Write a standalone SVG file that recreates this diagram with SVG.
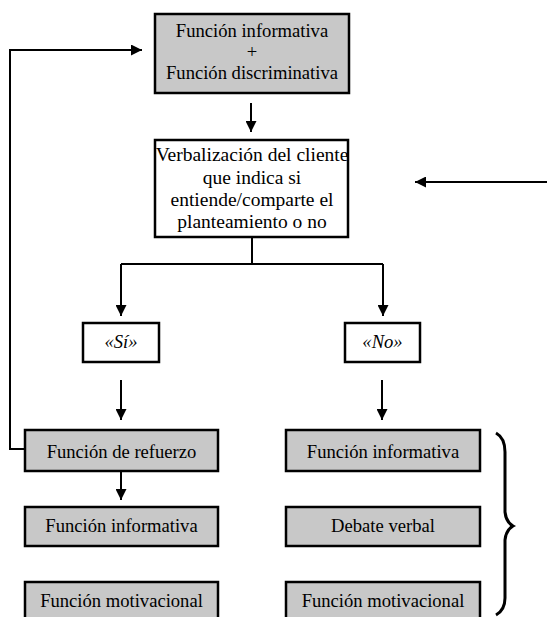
<svg xmlns="http://www.w3.org/2000/svg" width="547" height="617" viewBox="0 0 547 617">
<defs>
<marker id="ah" viewBox="0 0 11 11" refX="11" refY="5.5" markerWidth="11" markerHeight="11" markerUnits="userSpaceOnUse" orient="auto">
<path d="M0,0 L11,5.5 L0,11 z" fill="#000"/>
</marker>
<style>
.g{fill:#c8c8c8;stroke:#000;stroke-width:2.5}
.w{fill:#fff;stroke:#000;stroke-width:2.5}
.t{font-family:"Liberation Serif","Times New Roman",serif;font-size:18.6px;fill:#000;text-anchor:middle}
.v{font-size:19.5px}
.i{font-style:italic}
.c{fill:none;stroke:#000;stroke-width:2}
</style>
</defs>
<rect width="547" height="617" fill="#fff"/>
<g id="connectors">
<path class="c" d="M25,449 H10 V50 H142" marker-end="url(#ah)"/>
<path class="c" d="M251,103 V132" marker-end="url(#ah)"/>
<path class="c" d="M252,237 V264"/>
<path class="c" d="M121,264 H383"/>
<path class="c" d="M121,264 V316" marker-end="url(#ah)"/>
<path class="c" d="M383,264 V316" marker-end="url(#ah)"/>
<path class="c" d="M121,380 V420" marker-end="url(#ah)"/>
<path class="c" d="M382,380 V420" marker-end="url(#ah)"/>
<path class="c" d="M121,472 V500" marker-end="url(#ah)"/>
<path class="c" d="M547,182 H415" marker-end="url(#ah)"/>
<path d="M496,433 Q505,438 505,452 V512 Q506,522 513,526 Q506,530 505,540 V598 Q505,610 496,615" fill="none" stroke="#000" stroke-width="3"/>
</g>
<g id="n1">
<rect class="g" x="155" y="14" width="194" height="79"/>
<text class="t" x="252" y="37">Función informativa</text>
<text class="t" x="252" y="58">+</text>
<text class="t" x="252" y="79">Función discriminativa</text>
</g>
<g id="n2">
<rect class="w" x="155" y="140" width="193" height="97"/>
<text class="t v" x="252" y="161">Verbalización del cliente</text>
<text class="t v" x="252" y="184">que indica si</text>
<text class="t v" x="252" y="206">entiende/comparte el</text>
<text class="t v" x="252" y="228">planteamiento o no</text>
</g>
<g id="n3">
<rect class="w" x="83" y="323" width="76" height="39"/>
<text class="t i" x="121" y="348">«Sí»</text>
</g>
<g id="n4">
<rect class="w" x="345" y="323" width="75" height="39"/>
<text class="t i" x="382.5" y="348">«No»</text>
</g>
<g id="n5">
<rect class="g" x="25" y="430" width="193" height="41"/>
<text class="t" x="121.5" y="458">Función de refuerzo</text>
</g>
<g id="n6">
<rect class="g" x="25" y="507" width="193" height="39"/>
<text class="t" x="121.5" y="532">Función informativa</text>
</g>
<g id="n7">
<rect class="g" x="25" y="582" width="193" height="40"/>
<text class="t" x="121.5" y="607">Función motivacional</text>
</g>
<g id="n8">
<rect class="g" x="286" y="430" width="194" height="41"/>
<text class="t" x="383" y="458">Función informativa</text>
</g>
<g id="n9">
<rect class="g" x="286" y="507" width="194" height="39"/>
<text class="t" x="383" y="532">Debate verbal</text>
</g>
<g id="n10">
<rect class="g" x="286" y="582" width="194" height="40"/>
<text class="t" x="383" y="607">Función motivacional</text>
</g>
</svg>
